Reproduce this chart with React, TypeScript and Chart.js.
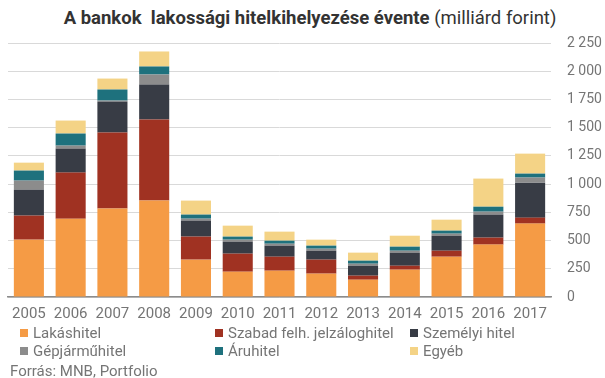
import React, { useEffect, useRef } from "react";
import { Chart, registerables } from "chart.js";

Chart.register(...registerables);

const years = ["2005","2006","2007","2008","2009","2010","2011","2012","2013","2014","2015","2016","2017"];
const lakashitel = [508, 694, 783, 854, 331, 224, 233, 207, 153, 242, 357, 464, 650];
const szabadFelh = [213, 408, 674, 718, 204, 160, 124, 124, 36, 35, 53, 62, 53];
const szemelyi = [230, 213, 274, 310, 142, 106, 98, 79, 88, 116, 133, 204, 310];
const gepjarmu = [80, 26, 9, 89, 17, 18, 17, 18, 18, 17, 18, 26, 45];
const aruhitel = [89, 107, 98, 71, 36, 27, 27, 27, 27, 36, 27, 44, 35];
const egyeb = [70, 115, 97, 133, 124, 97, 80, 53, 71, 97, 97, 249, 177];
const yTicks = [0, 250, 500, 750, 1000, 1250, 1500, 1750, 2000, 2250];

const seriesNames = ["Lakáshitel", "Szabad felh. jelzáloghitel", "Személyi hitel", "Gépjárműhitel", "Áruhitel", "Egyéb"];
const seriesColors = ["#F59B45", "#A03222", "#383C45", "#8C8C8C", "#1E717D", "#F4D386"];
const seriesData = [lakashitel, szabadFelh, szemelyi, gepjarmu, aruhitel, egyeb];

const FONT = "Roboto, 'Liberation Sans', sans-serif";
const TEXT = "#757575";

function fmt(v: number) {
  return String(v).replace(/\B(?=(\d{3})+(?!\d))/g, " ");
}

export default function App() {
  const ref = useRef<HTMLCanvasElement | null>(null);
  useEffect(() => {
    if (!ref.current) return;
    const chart = new Chart(ref.current, {
      type: "bar",
      data: {
        labels: years,
        datasets: seriesNames.map((n, i) => ({
          label: n,
          data: seriesData[i],
          backgroundColor: seriesColors[i],
          borderWidth: 0,
          barPercentage: 0.72,
          categoryPercentage: 1,
        })),
      },
      options: {
        animation: false,
        responsive: false,
        maintainAspectRatio: false,
        layout: { padding: { left: 8, top: 43, right: 0, bottom: 0 } },
        plugins: { legend: { display: false }, title: { display: false }, tooltip: { enabled: false } },
        scales: {
          x: {
            stacked: true,
            grid: { display: false, drawTicks: false },
            border: { display: true, color: "#8C8C8C", width: 1.5 },
            ticks: { color: TEXT, font: { family: FONT, size: 15 }, padding: 8, maxRotation: 0, autoSkip: false },
            afterFit: (s: any) => { s.height = 33; },
          },
          y: {
            stacked: true,
            position: "right",
            min: 0,
            max: 2250,
            afterBuildTicks: (s: any) => { s.ticks = yTicks.map((v) => ({ value: v })); },
            grid: { color: "#D9D9D9", lineWidth: 1, drawTicks: false },
            border: { display: false },
            ticks: { color: TEXT, font: { family: FONT, size: 14 }, padding: 16, callback: (v: any) => fmt(Number(v)) },
            afterFit: (s: any) => { s.width = 54; },
          },
        },
      },
    });
    return () => chart.destroy();
  }, []);

  const legendPos = [
    [20, 333], [215, 333], [410, 333],
    [20, 351], [215, 351], [410, 351],
  ];

  return (
    <div style={{ position: "absolute", left: 0, top: 0, width: 605, height: 378, background: "#fff", fontFamily: FONT, overflow: "hidden" }}>
      <div style={{ position: "absolute", left: 0, top: 6, width: 620, textAlign: "center", fontSize: 18.5, color: "#333", whiteSpace: "pre", lineHeight: "24px" }}>
        <span style={{ fontWeight: "bold" }}>{"A bankok  lakossági hitelkihelyezése évente"}</span>
        <span>{" (milliárd forint)"}</span>
      </div>
      <canvas ref={ref} width={605} height={330} style={{ position: "absolute", left: 0, top: 0, width: 605, height: 330 }} />
      {seriesNames.map((n, i) => (
        <div key={n} style={{ position: "absolute", left: legendPos[i][0], top: legendPos[i][1] - 9, height: 18, display: "flex", alignItems: "center", fontSize: 15, color: TEXT, whiteSpace: "nowrap" }}>
          <span style={{ display: "inline-block", width: 8, height: 8, background: seriesColors[i], marginRight: 5 }} />
          <span>{n}</span>
        </div>
      ))}
      <div style={{ position: "absolute", left: 10, top: 362, fontSize: 15, color: TEXT, lineHeight: "18px", whiteSpace: "nowrap" }}>Forrás: MNB, Portfolio</div>
    </div>
  );
}
